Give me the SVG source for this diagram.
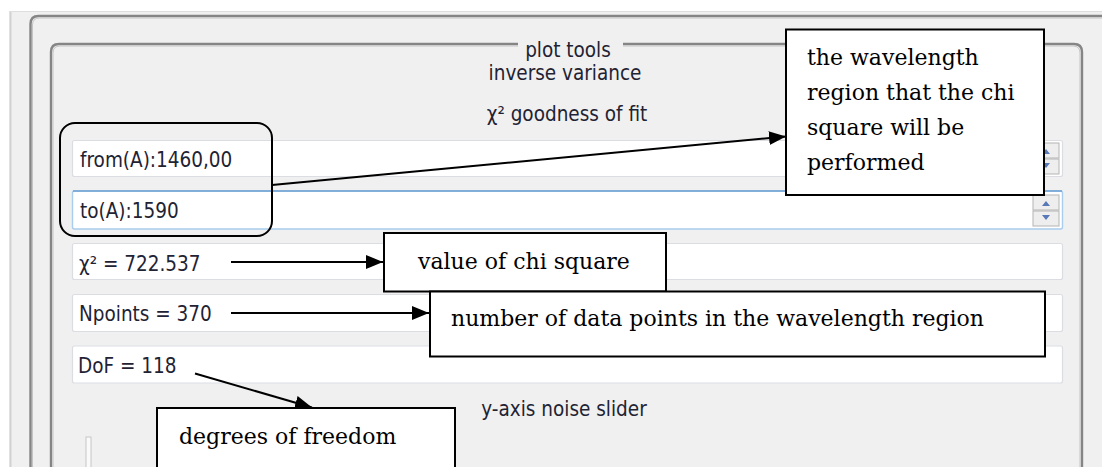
<svg xmlns="http://www.w3.org/2000/svg" width="1102" height="467" viewBox="0 0 1102 467">
<defs>
<style>
.ui{font-family:"DejaVu Sans Condensed","DejaVu Sans","Liberation Sans",sans-serif;font-stretch:condensed;font-size:20.5px;fill:#1f2333}
.ann{font-family:"DejaVu Serif","Liberation Serif",serif;font-size:22px;fill:#000}
.field{fill:#fff;stroke:#dcdde3;stroke-width:1.2}
.box{fill:#fff;stroke:#000;stroke-width:2}
.conn{stroke:#000;stroke-width:2;fill:none}
.etch{fill:none;stroke:#858585;stroke-width:2.4}
.etchl{fill:none;stroke:#c4c4c4;stroke-width:1}
.spin{fill:#eeeeee;stroke:#b4b4b4;stroke-width:1}
.tri{fill:#5878b8}
</style>
<marker id="ah" markerUnits="userSpaceOnUse" markerWidth="18" markerHeight="15" refX="17" refY="7" orient="auto">
<path d="M0,0 L17,7 L0,14 z" fill="#000"/>
</marker>
</defs>
<rect width="1102" height="467" fill="#fff"/>
<g id="window">
<rect x="9" y="11" width="1093" height="456" fill="#f0f0f0"/>
<line x1="10.5" y1="11" x2="10.5" y2="467" stroke="#d2d2d2" stroke-width="2"/>
<line x1="9" y1="11.5" x2="1102" y2="11.5" stroke="#dedede" stroke-width="1"/>
<path class="etch" d="M30.5 480 V24 Q30.5 16 38.5 16 H1110"/>
<path class="etchl" d="M32.5 480 V25 Q32.5 18 39.5 18 H1110"/>
<path class="etch" d="M51 480 V52 Q51 44 59 44 H518 M623 44 H1074 Q1082 44 1082 52 V480"/>
<path class="etchl" d="M53 480 V53 Q53 46 60 46 H518 M623 46 H1073 Q1080 46 1080 53 V480"/>
<text class="ui" x="568" y="57" text-anchor="middle">plot tools</text>
<text class="ui" x="565" y="80" text-anchor="middle">inverse variance</text>
<text class="ui" x="567" y="121" text-anchor="middle">χ² goodness of fit</text>
<text class="ui" x="564" y="416" text-anchor="middle">y-axis noise slider</text>
<rect x="86" y="437" width="5" height="40" fill="#fafafa" stroke="#c6c6c6" stroke-width="1"/>
</g>
<g id="field-from">
<rect class="field" x="72.5" y="140.5" width="990" height="36" rx="2"/>
<rect class="spin" x="1033" y="143" width="26" height="15"/>
<rect class="spin" x="1033" y="159" width="26" height="15"/>
<path class="tri" d="M1042 154 L1046 149 L1050 154 z M1042 163 L1046 168 L1050 163 z"/>
<text class="ui" x="80" y="167">from(A):1460,00</text>
</g>
<g id="field-to">
<rect x="72.5" y="191" width="990" height="38" rx="2" fill="#fff" stroke="#a8cdee" stroke-width="1.4"/>
<line x1="73" y1="191" x2="1062" y2="191" stroke="#6f9fd2" stroke-width="1.4"/>
<rect class="spin" x="1033" y="195" width="26" height="15"/>
<rect class="spin" x="1033" y="211" width="26" height="15"/>
<path class="tri" d="M1042 206 L1046 201 L1050 206 z M1042 215 L1046 220 L1050 215 z"/>
<text class="ui" x="80" y="218">to(A):1590</text>
</g>
<g id="field-chi">
<rect class="field" x="72.5" y="243.5" width="990" height="36" rx="2"/>
<text class="ui" x="79" y="271">χ² = 722.537</text>
</g>
<g id="field-npoints">
<rect class="field" x="72.5" y="294.5" width="990" height="37" rx="2"/>
<text class="ui" x="79" y="321">Npoints = 370</text>
</g>
<g id="field-dof">
<rect class="field" x="72.5" y="346" width="990" height="37" rx="2"/>
<text class="ui" x="78" y="373">DoF = 118</text>
</g>
<g id="range-highlight">
<rect x="60" y="123" width="212" height="113" rx="15" fill="none" stroke="#000" stroke-width="2"/>
</g>
<g id="connectors">
<line class="conn" x1="272" y1="185" x2="786" y2="136.5" marker-end="url(#ah)"/>
<line class="conn" x1="231" y1="262" x2="383" y2="262" marker-end="url(#ah)"/>
<line class="conn" x1="231" y1="313" x2="429" y2="313" marker-end="url(#ah)"/>
<line class="conn" x1="195" y1="373.5" x2="312" y2="407.5" marker-end="url(#ah)"/>
</g>
<g id="note-wavelength">
<rect class="box" x="786" y="29.5" width="258" height="165.5"/>
<text class="ann" x="807" y="65">the wavelength</text>
<text class="ann" x="807" y="100">region that the chi</text>
<text class="ann" x="807" y="135">square will be</text>
<text class="ann" x="807" y="170">performed</text>
</g>
<g id="note-chi">
<rect class="box" x="384" y="233" width="282" height="58.5"/>
<text class="ann" x="418" y="269">value of chi square</text>
</g>
<g id="note-npoints">
<rect class="box" x="430" y="291.5" width="615" height="65"/>
<text class="ann" x="451" y="326">number of data points in the wavelength region</text>
</g>
<g id="note-dof">
<rect class="box" x="157" y="408" width="298" height="80"/>
<text class="ann" x="179" y="444">degrees of freedom</text>
</g>
</svg>
